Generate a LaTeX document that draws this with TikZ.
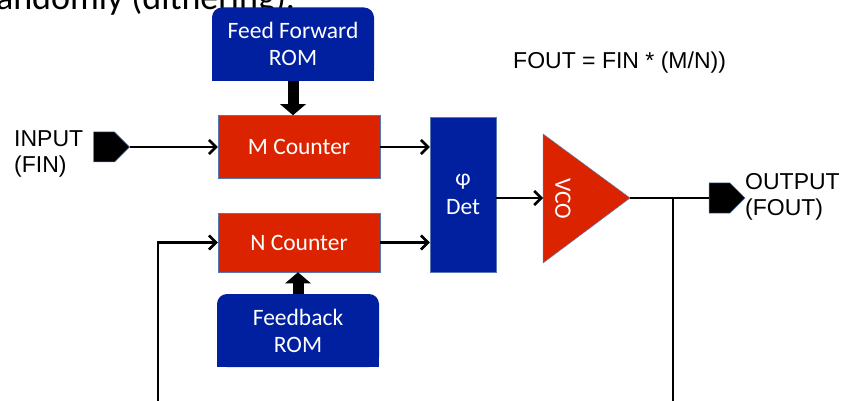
\documentclass[tikz,border=0pt]{standalone}
\usepackage{fontspec}
\setmainfont{Carlito}
\newfontfamily\arial{Liberation Sans}
\usetikzlibrary{arrows.meta,shapes.symbols,backgrounds}
\definecolor{romblue}{RGB}{0,32,160}
\definecolor{cntred}{RGB}{220,35,0}
\definecolor{rimblue}{RGB}{85,120,175}
\tikzset{
  boxfont/.style={font=\fontsize{23.5}{27}\selectfont},
  blk/.style={boxfont, minimum width=162pt, inner sep=0pt, text=white, align=center},
  cnt/.style={blk, fill=cntred, draw=rimblue, line width=0.5pt},
  rom/.style={blk, minimum height=73pt, fill=romblue, rounded corners=10pt},
  port/.style={signal, signal to=east, fill=black, draw=rimblue, line width=0.5pt,
    minimum width=36pt, minimum height=30pt, inner sep=0pt},
  lbl/.style={font=\arial\fontsize{23}{26}\selectfont, inner sep=0pt, align=left},
  wire/.style={line width=2.5pt},
  arr/.style={wire, -{Straight Barb[length=7pt,width=14pt]}},
  fat/.style={line width=11pt, -{Triangle[width=25pt,length=11pt]}},
}
\begin{document}
\begin{tikzpicture}[x=1pt,y=-1pt]
  \useasboundingbox (0,0) rectangle (841,401);
  \node[font=\fontsize{36}{40}\selectfont, inner sep=0pt, anchor=base west] (prev) at (-16,10) {randomly (dithering).};
  \node[rom] (ff) at (293,44) {Feed Forward\\ROM};
  \node[cnt, minimum height=63pt] (mcnt) at (299,147) {M Counter};
  \node[cnt, minimum height=59pt] (ncnt) at (299,242.5) {N Counter};
  \node[rom] (fb) at (298,330.5) {Feedback\\ROM};
  \node[blk, minimum width=66pt, minimum height=155pt, fill=romblue, draw=rimblue, line width=0.5pt,
    font=\fontsize{23.5}{29}\selectfont] (det) at (463,194.5) {φ\\Det};
  \fill[cntred, draw=rimblue, line width=0.5pt] (543,134) -- (630,198) -- (543,263) -- cycle;
  \node[boxfont, text=white, rotate=-90] (vco) at (563,199) {VCO};
  \coordinate (vcoin) at (543,198);
  \coordinate (vcoout) at (630,198);
  \node[port] (inport) at (104,147) {};
  \node[port] (outport) at (719.5,198) {};
  \node[lbl, anchor=north west] (inlbl) at (14,130) {INPUT\\(FIN)};
  \node[lbl, anchor=north west] (outlbl) at (745,173) {OUTPUT\\(FOUT)};
  \node[lbl, anchor=base west] (eqn) at (513,69) {FOUT = FIN * (M/N))};
  \coordinate (tap) at (673,198);
  \coordinate (fbl) at (158,410);
  \coordinate (fbr) at (673,410);
  \begin{scope}[on background layer]
    \fill[romblue] (ff.south west) rectangle ([yshift=15pt]ff.south east);
    \fill[romblue] (fb.south west) rectangle ([yshift=15pt]fb.south east);
  \end{scope}
  \draw[arr] (inport) -- (mcnt);
  \draw[arr] (mcnt.east) -- (mcnt.east -| det.west);
  \draw[arr] (ncnt.east) -- (ncnt.east -| det.west);
  \draw[arr] (det.east |- vcoin) -- (vcoin);
  \draw[wire] (vcoout) -- (outport.west);
  \draw[wire] (tap) -- (fbr);
  \draw[arr] (fbl) |- (ncnt.west);
  \draw[fat] (ff.south) -- (ff.south |- mcnt.north);
  \draw[fat] (fb.north) -- (fb.north |- ncnt.south);
\end{tikzpicture}
\end{document}
